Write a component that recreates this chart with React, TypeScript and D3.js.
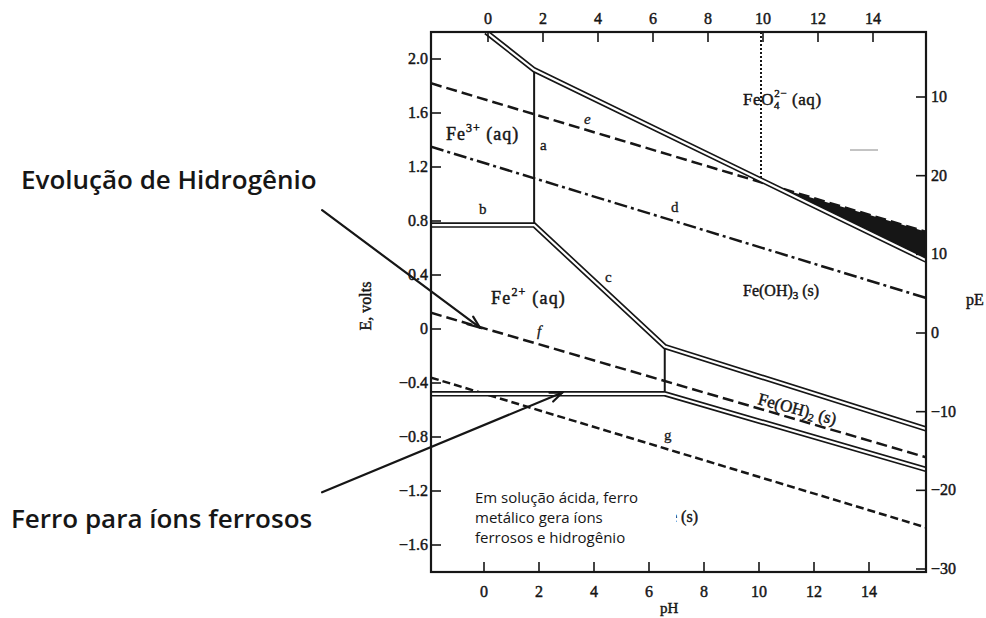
import React from 'react';
import * as d3 from 'd3';

// axis ticks
const PH_TICKS = [0, 2, 4, 6, 8, 10, 12, 14];
const E_TICKS = [2.0, 1.6, 1.2, 0.8, 0.4, 0, -0.4, -0.8, -1.2, -1.6];
const E_LABELS = ['2.0', '1.6', '1.2', '0.8', '0.4', '0', '−0.4', '−0.8', '−1.2', '−1.6'];
const PE_TICKS = [30, 20, 10, 0, -10, -20, -30];
const PE_LABELS = ['10', '20', '10', '0', '−10', '−20', '−30'];

// boundaries as [pH, E volts]
const FEO4_BOUND = [[0, 2.2], [1.75, 1.92], [16, 0.51]];
const LINE_A = [[1.75, 1.92], [1.75, 0.77]];
const LINE_BC = [[-2, 0.77], [1.75, 0.77], [6.5, -0.13], [16, -0.74]];
const LINE_V2 = [[6.5, -0.13], [6.5, -0.46]];
const LINE_FE = [[-2, -0.48], [6.5, -0.48], [16, -1.04]];
const LINE_E = [[-2, 1.82], [16, 0.72]];
const LINE_D = [[-2, 1.35], [16, 0.23]];
const LINE_F = [[-2, 0.12], [16, -0.95]];
const LINE_G = [[-2, -0.36], [16, -1.47]];
const LINE_DOT = [[10, 2.2], [10, 1.1]];
const FILL_FEO4 = [[10.4, 1.06], [16, 0.72], [16, 0.51]];

// annotation arrows [tail, tip] in pH / E
const ARROW_H2 = [[-5.96, 0.88], [-0.22, 0.01]];
const ARROW_FE = [[-5.96, -1.21], [2.78, -0.47]];

const W = 986;
const H = 618;
const LEFT = 431, RIGHT = 926, TOP = 32, BOTTOM = 572;

const x = d3.scaleLinear().domain([-2, 16]).range([LEFT, RIGHT]);
const y = d3.scaleLinear().domain([-1.8, 2.2]).range([BOTTOM, TOP]);
const pe = d3.scaleLinear().domain([-30, 30]).range([569, 97]);

const line = d3.line<number[]>().x(d => x(d[0])).y(d => y(d[1]));

const ink = '#161616';
const serif = '"Liberation Serif", "DejaVu Serif", serif';
const sans = '"Open Sans", "Noto Sans", sans-serif';

const DoubleLine = ({ pts }: { pts: number[][] }) => (
  <g>
    <path d={line(pts) || ''} fill="none" stroke={ink} strokeWidth={5.5} strokeLinejoin="miter" />
    <path d={line(pts) || ''} fill="none" stroke="#fff" strokeWidth={2.2} strokeLinejoin="miter" />
  </g>
);

const Arrow = ({ pts }: { pts: number[][] }) => {
  const x0 = x(pts[0][0]), y0 = y(pts[0][1]);
  const x1 = x(pts[1][0]), y1 = y(pts[1][1]);
  const ang = Math.atan2(y1 - y0, x1 - x0);
  const len = 13, spread = 0.38;
  const b1 = [x1 - len * Math.cos(ang - spread), y1 - len * Math.sin(ang - spread)];
  const b2 = [x1 - len * Math.cos(ang + spread), y1 - len * Math.sin(ang + spread)];
  return (
    <g stroke={ink} strokeWidth={2.2} fill="none" strokeLinecap="round">
      <line x1={x0} y1={y0} x2={x1} y2={y1} />
      <polyline points={`${b1[0]},${b1[1]} ${x1},${y1} ${b2[0]},${b2[1]}`} />
    </g>
  );
};

const App = () => {
  return (
    <svg width={W} height={H} style={{ position: 'absolute', left: 0, top: 0, background: '#fff' }}>
      <defs>
        <clipPath id="plot">
          <rect x={LEFT} y={TOP} width={RIGHT - LEFT} height={BOTTOM - TOP} />
        </clipPath>
      </defs>

      <g clipPath="url(#plot)">
        <path d={line(FILL_FEO4) + 'Z'} fill={ink} />
        <path d={line(LINE_E) || ''} fill="none" stroke={ink} strokeWidth={2.5} strokeDasharray="11,5" />
        <path d={line(LINE_D) || ''} fill="none" stroke={ink} strokeWidth={2.5} strokeDasharray="13,4,3,4" />
        <path d={line(LINE_F) || ''} fill="none" stroke={ink} strokeWidth={2.5} strokeDasharray="11,5" />
        <path d={line(LINE_G) || ''} fill="none" stroke={ink} strokeWidth={2.5} strokeDasharray="8,4" />
        <path d={line(LINE_DOT) || ''} fill="none" stroke={ink} strokeWidth={2} strokeDasharray="2,2" />
        <path d={line(LINE_A) || ''} fill="none" stroke={ink} strokeWidth={2} />
        <path d={line(LINE_V2) || ''} fill="none" stroke={ink} strokeWidth={2} />
        <DoubleLine pts={FEO4_BOUND} />
        <DoubleLine pts={LINE_BC} />
        <DoubleLine pts={LINE_FE} />
      </g>

      {/* frame */}
      <rect x={LEFT} y={TOP} width={RIGHT - LEFT} height={BOTTOM - TOP} fill="none" stroke={ink} strokeWidth={2.2} />

      <g fontFamily={serif} fontSize={16} fill={ink} stroke={ink} strokeWidth={0.45}>
        {/* top / bottom pH axes */}
        {PH_TICKS.map(v => (
          <g key={'t' + v} textAnchor="middle">
            <line x1={x(v) + 2} x2={x(v) + 2} y1={TOP} y2={TOP + 10} strokeWidth={1.6} />
            <text x={x(v) + 2} y={24}>{v}</text>
            <line x1={x(v) - 2} x2={x(v) - 2} y1={BOTTOM} y2={BOTTOM - 10} strokeWidth={1.6} />
            <text x={x(v) - 2} y={597}>{v}</text>
          </g>
        ))}

        {/* left E axis */}
        {E_TICKS.map((v, i) => (
          <g key={'e' + v}>
            <line x1={LEFT} x2={LEFT + 10} y1={y(v)} y2={y(v)} strokeWidth={1.6} />
            <text x={428} y={y(v) + 5} textAnchor="end">{E_LABELS[i]}</text>
          </g>
        ))}

        {/* right pE axis */}
        {PE_TICKS.map((v, i) => (
          <g key={'p' + v}>
            <line x1={RIGHT - 10} x2={RIGHT} y1={pe(v)} y2={pe(v)} strokeWidth={1.6} />
            <text x={931} y={pe(v) + 5}>{PE_LABELS[i]}</text>
          </g>
        ))}

        {/* axis titles */}
        <text x={371} y={306} transform="rotate(-90 371 306)" textAnchor="middle">E, volts</text>
        <text x={966} y={305}>pE</text>
        <text x={660} y={613} fontSize={15}>pH</text>

        {/* species and line labels */}
        <text x={446} y={140} fontSize={18} letterSpacing={1}>Fe<tspan dy={-8} fontSize={12}>3+</tspan><tspan dy={8}> (aq)</tspan></text>
        <text x={491} y={304} fontSize={18} letterSpacing={1.2}>Fe<tspan dy={-8} fontSize={12}>2+</tspan><tspan dy={8}> (aq)</tspan></text>
        <text x={743} y={296}>Fe(OH)<tspan dy={3} fontSize={11}>3</tspan><tspan dy={-3}> (s)</tspan></text>
        <text x={743} y={105} fontSize={17} letterSpacing={0.6}>FeO<tspan dy={4} fontSize={11}>4</tspan><tspan dy={-12} dx={-6} fontSize={11}>2−</tspan><tspan dy={8}> (aq)</tspan></text>
        <text x={757} y={404} transform="rotate(15 757 404)" fontSize={17}>Fe(OH)<tspan dy={3} fontSize={11}>2</tspan><tspan dy={-3}> (s)</tspan></text>
        <text x={698} y={522} textAnchor="end">Fe (s)</text>
        <g fontSize={15} strokeWidth={0.3}>
          <text x={540} y={150}>a</text>
          <text x={479} y={214}>b</text>
          <text x={605} y={282}>c</text>
          <text x={671} y={212}>d</text>
          <text x={584} y={124} fontStyle="italic">e</text>
          <text x={537} y={336} fontStyle="italic">f</text>
          <text x={664} y={440}>g</text>
        </g>
      </g>
      <line x1={850} x2={878} y1={150} y2={150} stroke="#888" strokeWidth={1} />

      {/* text box */}
      <rect x={466} y={484} width={210} height={68} fill="#fff" />
      <g fontFamily={sans} fontSize={15} fill={ink}>
        <text x={475} y={503}>Em solução ácida, ferro</text>
        <text x={475} y={523}>metálico gera íons</text>
        <text x={475} y={543}>ferrosos e hidrogênio</text>
      </g>

      {/* annotations */}
      <Arrow pts={ARROW_H2} />
      <Arrow pts={ARROW_FE} />
      <g fontFamily={sans} fontSize={26} fontWeight={600} fill={ink}>
        <text x={21} y={189}>Evolução de Hidrogênio</text>
        <text x={11} y={528}>Ferro para íons ferrosos</text>
      </g>
    </svg>
  );
};

export default App;
